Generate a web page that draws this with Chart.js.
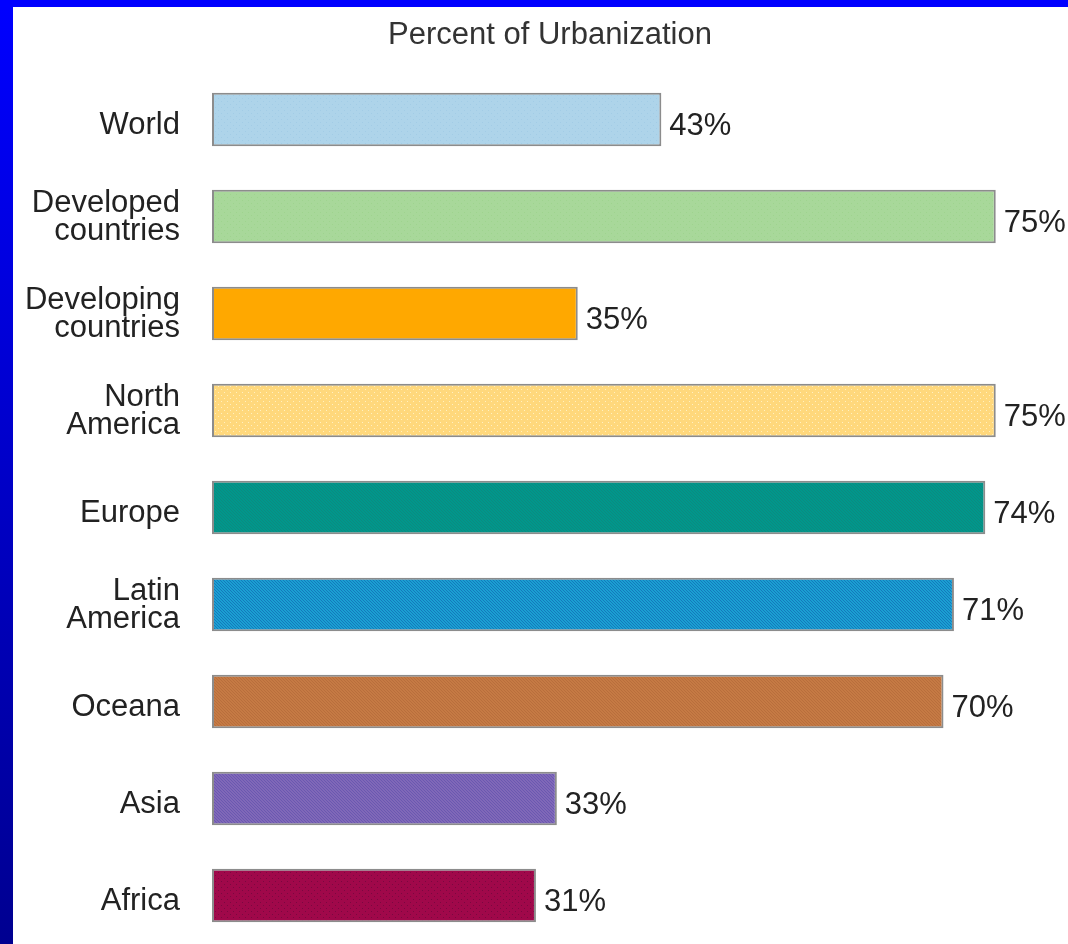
<!DOCTYPE html>
<html>
<head>
<meta charset="utf-8">
<script src="https://cdn.jsdelivr.net/npm/chart.js@4.4.1/dist/chart.umd.min.js"></script>
<style>
  html, body { margin: 0; padding: 0; }
  body { width: 1068px; height: 944px; overflow: hidden; background: #0000ff; }
  #frame {
    position: absolute; left: 0; top: 0; width: 1068px; height: 944px;
    background: linear-gradient(to bottom, #0000ff 0%, #0000c8 50%, #000090 100%);
  }
  #top { position: absolute; left: 0; top: 0; width: 1068px; height: 7px; background: #0000ff; }
  #wrap {
    position: absolute; left: 13px; top: 7px; width: 1055px; height: 937px;
    background: #ffffff;
  }
</style>
</head>
<body>
<div id="frame"></div>
<div id="top"></div>
<div id="wrap"><canvas id="urban" width="1055" height="937"></canvas></div>
<script>
// regions and their share of urban population (%)
const regions = [
    'World',
    ['Developed', 'countries'],
    ['Developing', 'countries'],
    ['North', 'America'],
    'Europe',
    ['Latin', 'America'],
    'Oceana',
    'Asia',
    'Africa'
];
const urbanPct = [43, 75, 35, 75, 74, 71, 70, 33, 31];
const barColors = ['#aed4ea', '#a8d89a', '#ffa800', '#ffd87c', '#00978b',
                   '#1aa0d2', '#c57a44', '#8068b8', '#a0084a'];
const barAccents = ['#a2cce6', '#9ed48e', '#ffa800', '#fff0c0', '#0c8a80',
                    '#1478bc', '#b86e3c', '#6a58b0', '#7a0840'];
const barTextures = ['dots', 'dots', 'none', 'dots', 'weave',
                     'weave', 'weave', 'weave', 'dots'];
const chartTitle = 'Percent of Urbanization';

const FONT = 'Liberation Sans, Arial, Helvetica, sans-serif';
const TEXT = '#222222';

// small repeating textures, like the old clip-art fills
function makePattern(base, accent, kind) {
    if (kind === 'none') return base;
    const c = document.createElement('canvas');
    c.width = 6; c.height = 6;
    const g = c.getContext('2d');
    g.fillStyle = base;
    g.fillRect(0, 0, 6, 6);
    g.fillStyle = accent;
    if (kind === 'dots') {
        g.fillRect(1, 1, 1, 1);
        g.fillRect(4, 4, 1, 1);
    } else {
        for (let i = 0; i < 6; i++) {
            g.fillRect(i, i, 1, 1);
            g.fillRect((i + 3) % 6, i, 1, 1);
        }
    }
    return g.createPattern(c, 'repeat');
}
const barFills = barColors.map((col, i) => makePattern(col, barAccents[i], barTextures[i]));

// title is drawn by hand so it can sit off-centre like the original
const titlePlugin = {
    id: 'titlePlugin',
    afterDraw(chart) {
        const ctx = chart.ctx;
        ctx.save();
        ctx.font = '31px ' + FONT;
        ctx.fillStyle = '#333333';
        ctx.textAlign = 'center';
        ctx.textBaseline = 'middle';
        ctx.fillText(chartTitle, 537, 28);
        ctx.restore();
    }
};

// category names, right aligned beside the bars
const categoryLabels = {
    id: 'categoryLabels',
    afterDraw(chart) {
        const ctx = chart.ctx;
        const yScale = chart.scales.y;
        ctx.save();
        ctx.font = '31px ' + FONT;
        ctx.fillStyle = TEXT;
        ctx.textAlign = 'right';
        ctx.textBaseline = 'middle';
        const right = chart.chartArea.left - 32;
        regions.forEach((name, i) => {
            const lines = Array.isArray(name) ? name : [name];
            const lh = 28;
            const yc = yScale.getPixelForTick(i) + (lines.length > 1 ? 1 : 6);
            lines.forEach((ln, k) => {
                ctx.fillText(ln, right, yc + (k - (lines.length - 1) / 2) * lh);
            });
        });
        ctx.restore();
    }
};

// value labels to the right of every bar
const valueLabels = {
    id: 'valueLabels',
    afterDatasetsDraw(chart) {
        const ctx = chart.ctx;
        const meta = chart.getDatasetMeta(0);
        ctx.save();
        ctx.font = '31px ' + FONT;
        ctx.fillStyle = TEXT;
        ctx.textAlign = 'left';
        ctx.textBaseline = 'middle';
        meta.data.forEach((bar, i) => {
            ctx.fillText(urbanPct[i] + '%', bar.x + 8, bar.y + 7);
        });
        ctx.restore();
    }
};

new Chart(document.getElementById('urban'), {
    type: 'bar',
    data: {
        labels: regions,
        datasets: [{
            data: urbanPct,
            backgroundColor: barFills,
            borderColor: '#8c8c8c',
            borderWidth: 2,
            borderSkipped: false,
            barPercentage: 0.55,
            categoryPercentage: 1
        }]
    },
    options: {
        indexAxis: 'y',
        responsive: false,
        animation: false,
        layout: { padding: { left: 0, right: 20, top: 64, bottom: 0 } },
        plugins: {
            legend: { display: false },
            tooltip: { enabled: false },
            title: { display: false }
        },
        scales: {
            x: { display: false, min: 0, max: 80 },
            y: {
                grid: { display: false, drawTicks: false },
                border: { display: false },
                ticks: { display: false },
                afterFit(scale) {
                    scale.width = 199;
                    scale.paddingTop = 0;
                    scale.paddingBottom = 0;
                }
            }
        }
    },
    plugins: [valueLabels, categoryLabels, titlePlugin]
});
</script>
</body>
</html>
